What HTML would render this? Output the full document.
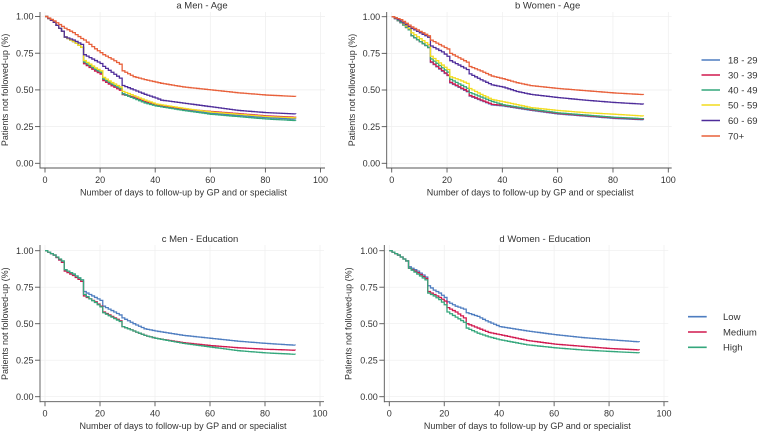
<!DOCTYPE html>
<html>
<head>
<meta charset="utf-8">
<style>
html,body{margin:0;padding:0;background:#fff;}
svg{display:block;}
text{font-family:"Liberation Sans",Arial,sans-serif;fill:#333;}
</style>
</head>
<body>
<svg id="chart" width="758" height="431" viewBox="0 0 758 431" xmlns="http://www.w3.org/2000/svg">
<rect width="758" height="431" fill="#fff"/>
</svg>
<script>
(function(){
var NS="http://www.w3.org/2000/svg";
var svg=document.getElementById("chart");
function el(tag,attrs,txt){var e=document.createElementNS(NS,tag);for(var k in attrs)e.setAttribute(k,attrs[k]);if(txt!==undefined)e.textContent=txt;svg.appendChild(e);return e;}
var C={blue:"#4e7dc0",red:"#d1184f",green:"#34a77c",yellow:"#f2dc1e",purple:"#4e2c9a",orange:"#e8603a"};

function sval(a,d){var i=-1;for(var k=0;k<a.length;k++){if(a[k][0]<=d)i=k;}
 if(a[i][0]===d||i===a.length-1)return a[i][1];
 var p=a[i],q=a[i+1];return p[1]+(q[1]-p[1])*(d-p[0])/(q[0]-p[0]);}

function panel(P){
 var L=P.left,T=P.top,B=P.bottom,R=P.right;
 function X(d){return P.x0+d*P.xs;}
 function Y(v){return P.y0-v*(P.y0-P.y1);}
 // grid
 for(var d=0;d<=100;d+=20){el("line",{x1:X(d),x2:X(d),y1:T,y2:B,stroke:"#eeeeee","stroke-width":0.7});}
 for(var v=0;v<=1.0001;v+=0.25){el("line",{x1:L,x2:R,y1:Y(v),y2:Y(v),stroke:"#eeeeee","stroke-width":0.7});}
 // curves
 P.series.forEach(function(s){
  var p="M"+X(0).toFixed(2)+" "+Y(sval(s.a,0)).toFixed(2);
  for(var d=1;d<=91;d++){p+=" H"+X(d).toFixed(2)+" V"+Y(sval(s.a,d)).toFixed(2);}
  el("path",{d:p,fill:"none",stroke:s.c,"stroke-width":1.3,"stroke-linejoin":"miter"});
 });
 // axes
 el("line",{x1:L,x2:L,y1:T,y2:B+0.5,stroke:"#555","stroke-width":0.9});
 el("line",{x1:L,x2:R,y1:B,y2:B,stroke:"#555","stroke-width":0.9});
 for(var v=0;v<=1.0001;v+=0.25){
  el("line",{x1:L-5,x2:L,y1:Y(v),y2:Y(v),stroke:"#555","stroke-width":0.9});
  el("text",{x:L-6.5,y:Y(v)+3.2,"text-anchor":"end","font-size":"9"},v.toFixed(2));
 }
 for(var d=0;d<=100;d+=20){
  el("line",{x1:X(d),x2:X(d),y1:B,y2:B+4.5,stroke:"#555","stroke-width":0.9});
  el("text",{x:X(d),y:B+15,"text-anchor":"middle","font-size":"9"},String(d));
 }
 el("text",{x:(L+R)/2+1,y:B+27.3,"text-anchor":"middle","font-size":"9"},"Number of days to follow-up by GP and or specialist");
 var cy=(P.y0+P.y1)/2;
 el("text",{x:0,y:0,"text-anchor":"middle","font-size":"9",transform:"translate("+(P.ylx+3.2)+","+cy+") rotate(-90)"},"Patients not followed-up (%)");
 el("text",{x:P.tx,y:P.ty,"text-anchor":"middle","font-size":"9.5"},P.title);
 if(P.legend){P.legend.forEach(function(g){
  el("line",{x1:P.lx1,x2:P.lx2,y1:g[2],y2:g[2],stroke:g[1],"stroke-width":1.6});
  el("text",{x:P.ltx,y:g[2]+3.4,"font-size":"9.5"},g[0]);
 });}
}

// Panel a
var aBase=[[0,1],[3,0.96],[6,0.9],[7,0.86],[10,0.83],[13,0.79],[14,0.69],[18,0.64],[20,0.62],[21,0.575],[24,0.54],[27,0.51],[28,0.48],[32,0.45],[36,0.42],[40,0.40],[50,0.37],[60,0.345],[70,0.33],[80,0.315],[91,0.305]];
function mod(base,f){return base.map(function(p){return [p[0],f(p[0],p[1])];});}
panel({x0:45,xs:2.755,y1:16.5,y0:163.3,left:40,top:12,bottom:168,right:325,ylx:5,tx:202,ty:8.5,title:"a Men - Age",
series:[
 {c:C.blue,a:mod(aBase,function(d,v){return d>=40?v-0.004:v-0.005*(d>=14?1:0);})},
 {c:C.red,a:mod(aBase,function(d,v){return d>=14&&d<30?v-0.012:(d>=60?v+0.008:v);})},
 {c:C.green,a:mod(aBase,function(d,v){return d>=28?v-0.008-(d-28)*0.0001:v;})},
 {c:C.yellow,a:mod(aBase,function(d,v){return d>=14&&d<40?v+0.01:(d>=40?v+0.004:v);})},
 {c:C.purple,a:[[0,1],[3,0.96],[6,0.9],[7,0.86],[10,0.84],[13,0.81],[14,0.74],[18,0.70],[20,0.68],[21,0.66],[24,0.62],[27,0.58],[28,0.53],[32,0.50],[36,0.47],[40,0.445],[42,0.43],[50,0.41],[60,0.385],[70,0.36],[80,0.345],[91,0.336]]},
 {c:C.orange,a:[[0,1],[3,0.97],[7,0.92],[10,0.89],[13,0.85],[14,0.84],[18,0.78],[21,0.74],[24,0.71],[27,0.675],[28,0.63],[32,0.59],[36,0.57],[42,0.545],[50,0.52],[60,0.50],[70,0.48],[80,0.465],[91,0.455]]}
]});

// Panel b
var bBase=[[0,1],[3,0.96],[6,0.91],[7,0.87],[10,0.83],[13,0.79],[14,0.70],[18,0.64],[20,0.61],[21,0.56],[24,0.53],[27,0.50],[28,0.47],[32,0.44],[36,0.41],[40,0.395],[50,0.365],[60,0.34],[70,0.325],[80,0.31],[91,0.30]];
panel({x0:391.7,xs:2.766,y1:16.7,y0:163.3,left:386.7,top:12,bottom:168,right:671.7,ylx:351.7,tx:547.6,ty:8.5,title:"b Women - Age",
lx1:701.5,lx2:720,ltx:728,
legend:[["18 - 29",C.blue,60],["30 - 39",C.red,75],["40 - 49",C.green,90],["50 - 59",C.yellow,105],["60 - 69",C.purple,120.5],["70+",C.orange,136]],
series:[
 {c:C.blue,a:mod(bBase,function(d,v){return d>=14&&d<40?v-0.012:(d>=40?v-0.004:v);})},
 {c:C.red,a:mod(bBase,function(d,v){return d>=14&&d<40?v-0.008:v;})},
 {c:C.green,a:mod(bBase,function(d,v){return d>=14&&d<40?v+0.012:(d>=40?v+0.004:v);})},
 {c:C.yellow,a:[[0,1],[3,0.97],[6,0.92],[7,0.89],[10,0.85],[13,0.81],[14,0.73],[18,0.67],[20,0.64],[21,0.59],[24,0.57],[27,0.545],[28,0.51],[32,0.47],[36,0.435],[40,0.42],[50,0.38],[60,0.36],[70,0.345],[80,0.335],[91,0.322]]},
 {c:C.purple,a:[[0,1],[3,0.97],[7,0.92],[10,0.89],[13,0.86],[14,0.80],[18,0.76],[20,0.73],[21,0.70],[24,0.67],[27,0.64],[28,0.61],[32,0.57],[36,0.535],[40,0.52],[45,0.49],[50,0.47],[60,0.448],[70,0.43],[80,0.415],[91,0.403]]},
 {c:C.orange,a:[[0,1],[3,0.98],[7,0.93],[10,0.90],[13,0.87],[14,0.84],[18,0.80],[20,0.78],[21,0.75],[24,0.72],[27,0.69],[28,0.66],[32,0.63],[36,0.595],[40,0.577],[45,0.55],[50,0.53],[60,0.51],[70,0.495],[80,0.48],[91,0.468]]}
]});

// Panel c
panel({x0:45,xs:2.75,y1:250.7,y0:396.7,left:40,top:245,bottom:401.7,right:324,ylx:5,tx:200,ty:241.8,title:"c Men - Education",
series:[
 {c:C.blue,a:[[0,1],[3,0.97],[6,0.92],[7,0.87],[10,0.84],[13,0.80],[14,0.72],[16,0.70],[18,0.68],[20,0.66],[21,0.62],[24,0.59],[27,0.56],[28,0.54],[32,0.50],[36,0.465],[40,0.45],[45,0.435],[50,0.42],[60,0.40],[70,0.38],[80,0.365],[91,0.352]]},
 {c:C.red,a:[[0,1],[3,0.97],[6,0.92],[7,0.86],[10,0.83],[13,0.79],[14,0.69],[16,0.67],[18,0.65],[20,0.62],[21,0.58],[24,0.55],[27,0.52],[28,0.48],[32,0.45],[36,0.42],[40,0.40],[50,0.37],[60,0.35],[70,0.335],[80,0.325],[91,0.318]]},
 {c:C.green,a:[[0,1],[3,0.97],[6,0.93],[7,0.87],[10,0.84],[13,0.80],[14,0.70],[16,0.67],[18,0.645],[20,0.615],[21,0.575],[24,0.545],[27,0.515],[28,0.48],[32,0.45],[36,0.42],[40,0.40],[50,0.365],[60,0.34],[70,0.315],[80,0.30],[91,0.29]]}
]});

// Panel d
panel({x0:389.3,xs:2.747,y1:250.7,y0:396.7,left:384.3,top:245,bottom:401.7,right:668.3,ylx:348.3,tx:545,ty:241.8,title:"d Women - Education",
lx1:688,lx2:706.7,ltx:723,
legend:[["Low",C.blue,316.7],["Medium",C.red,332],["High",C.green,347.3]],
series:[
 {c:C.blue,a:[[0,1],[3,0.97],[6,0.93],[7,0.89],[10,0.86],[13,0.82],[14,0.76],[16,0.73],[18,0.71],[20,0.68],[21,0.65],[24,0.62],[27,0.60],[28,0.575],[32,0.55],[35,0.52],[40,0.48],[45,0.465],[50,0.45],[60,0.425],[70,0.405],[80,0.39],[91,0.375]]},
 {c:C.red,a:[[0,1],[3,0.97],[6,0.93],[7,0.88],[10,0.85],[13,0.81],[14,0.72],[16,0.70],[18,0.68],[20,0.655],[21,0.61],[24,0.58],[27,0.54],[28,0.50],[32,0.47],[36,0.44],[40,0.425],[50,0.385],[60,0.36],[70,0.345],[80,0.33],[91,0.32]]},
 {c:C.green,a:[[0,1],[3,0.97],[6,0.93],[7,0.88],[10,0.84],[13,0.80],[14,0.71],[16,0.69],[18,0.665],[20,0.63],[21,0.58],[24,0.545],[27,0.51],[28,0.47],[32,0.435],[36,0.41],[40,0.39],[50,0.355],[60,0.335],[70,0.32],[80,0.31],[91,0.30]]}
]});
})();
</script>
</body>
</html>
